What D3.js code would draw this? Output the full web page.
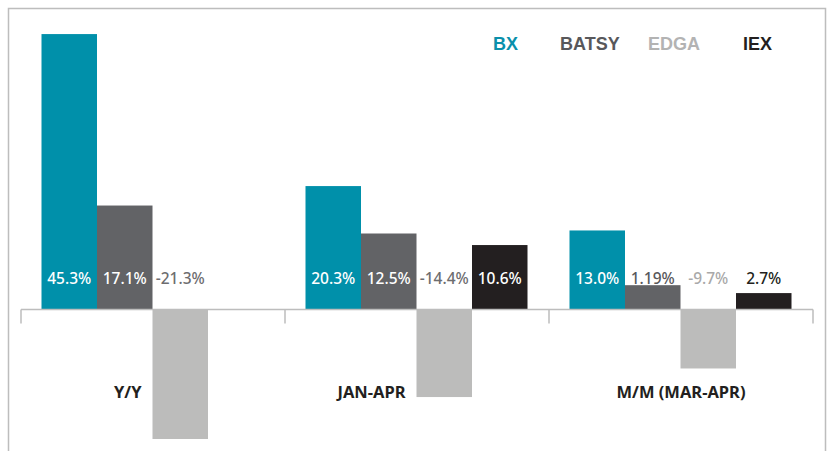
<!DOCTYPE html>
<html lang="en">
<head>
  <meta charset="UTF-8">
  <title>Exchange volume change</title>
  <script src="https://d3js.org/d3.v7.min.js"></script>
  <style>
    body { margin: 0; background: #fff; font-family: "Noto Sans", "Liberation Sans", Arial, sans-serif; }
  </style>
</head>
<body>
  <div id="chart"></div>
  <script>
    const categories = ["Y/Y", "JAN-APR", "M/M (MAR-APR)"];
    const series = ["BX", "BATSY", "EDGA", "IEX"];
    // values per category, in series order (null = no bar)
    const yy = [45.3, 17.1, -21.3, null];
    const janApr = [20.3, 12.5, -14.4, 10.6];
    const mm = [13.0, 4.0, -9.7, 2.7];
    // printed labels as shown in the source
    const yyLabels = ["45.3%", "17.1%", "-21.3%", ""];
    const janAprLabels = ["20.3%", "12.5%", "-14.4%", "10.6%"];
    const mmLabels = ["13.0%", "1.19%", "-9.7%", "2.7%"];

    const values = [yy, janApr, mm];
    const labels = [yyLabels, janAprLabels, mmLabels];

    const barColors = ["#0090aa", "#626366", "#bcbcbb", "#231f20"];
    const legendColors = ["#0a90ab", "#58585b", "#b3b3b3", "#231f20"];

    const W = 830, H = 451;
    const svg = d3.select("#chart").append("svg")
      .attr("width", W).attr("height", H);

    // frame
    svg.append("path")
      .attr("d", `M8.5,${H + 2}V8.5H825.5V${H + 2}`)
      .attr("fill", "none")
      .attr("stroke", "#bdbdbd")
      .attr("stroke-width", 1.5);

    const x0 = d3.scaleBand().domain(categories).range([21, 813]);
    const x1 = d3.scaleBand().domain(series).range([20.5, x0.bandwidth() - 21.5]);
    const y = d3.scaleLinear().domain([-25, 50]).range([309.5 + 25 * 6.08, 309.5 - 50 * 6.08]);

    const data = [];
    categories.forEach((c, ci) => {
      series.forEach((s, si) => {
        data.push({ cat: c, ci, s, si, v: values[ci][si], label: labels[ci][si] });
      });
    });

    // bars
    svg.append("g").selectAll("rect")
      .data(data.filter(d => d.v !== null))
      .join("rect")
      .attr("x", d => x0(d.cat) + x1(d.s))
      .attr("y", d => y(Math.max(0, d.v)))
      .attr("width", x1.bandwidth())
      .attr("height", d => Math.abs(y(d.v) - y(0)))
      .attr("fill", d => barColors[d.si]);

    // axis line and ticks at category boundaries
    const ax = svg.append("g").attr("stroke", "#bdbdbd").attr("stroke-width", 1.5);
    ax.append("line")
      .attr("x1", x0.range()[0]).attr("x2", x0.range()[1])
      .attr("y1", y(0)).attr("y2", y(0));
    const bounds = categories.map(c => x0(c)).concat([x0.range()[1]]);
    ax.selectAll(".tick")
      .data(bounds)
      .join("line")
      .attr("x1", d => d).attr("x2", d => d)
      .attr("y1", y(0)).attr("y2", y(0) + 14);

    // value labels
    const labelY = 283.5;
    svg.append("g").selectAll("text")
      .data(data.filter(d => d.label))
      .join("text")
      .attr("x", d => x0(d.cat) + x1(d.s) + x1.bandwidth() / 2)
      .attr("y", labelY)
      .attr("text-anchor", "middle")
      .attr("font-size", "15.5px")
      .attr("font-weight", 500)
      .attr("fill", d => {
        if (d.v > 0 && y(d.v) < labelY - 16) return "#fff";
        if (d.si === 2 && d.ci < 2) return "#6d6d6f";
        if (d.si === 2) return "#a9a9a9";
        return d.si === 1 ? "#58585b" : legendColors[d.si];
      })
      .text(d => d.label);

    // category labels, moved left of a negative bar when they would overlap it
    svg.append("g").selectAll("text")
      .data(categories)
      .join("text")
      .attr("font-weight", "bold")
      .attr("font-size", "16.5px")
      .attr("fill", "#231f20")
      .attr("y", 398)
      .text(d => d)
      .each(function (c, ci) {
        const t = d3.select(this);
        const w = this.getComputedTextLength();
        const cx = x0(c) + x0.bandwidth() / 2;
        const negBottom = y(values[ci][2]);
        const barLeft = x0(c) + x1("EDGA");
        if (negBottom > 385 && cx + w / 2 > barLeft - 11) {
          t.attr("text-anchor", "end").attr("x", barLeft - 11);
        } else {
          t.attr("text-anchor", "middle").attr("x", cx);
        }
      });

    // legend
    const legendX = d3.scaleOrdinal().domain(series).range([493, 560, 648, 743]);
    svg.append("g").selectAll("text")
      .data(series)
      .join("text")
      .attr("x", d => legendX(d))
      .attr("y", 49.5)
      .attr("font-family", "'Liberation Sans', Arial, sans-serif")
      .attr("font-weight", "bold")
      .attr("font-size", "18px")
      .attr("fill", (d, i) => legendColors[i])
      .text(d => d);
  </script>
</body>
</html>
